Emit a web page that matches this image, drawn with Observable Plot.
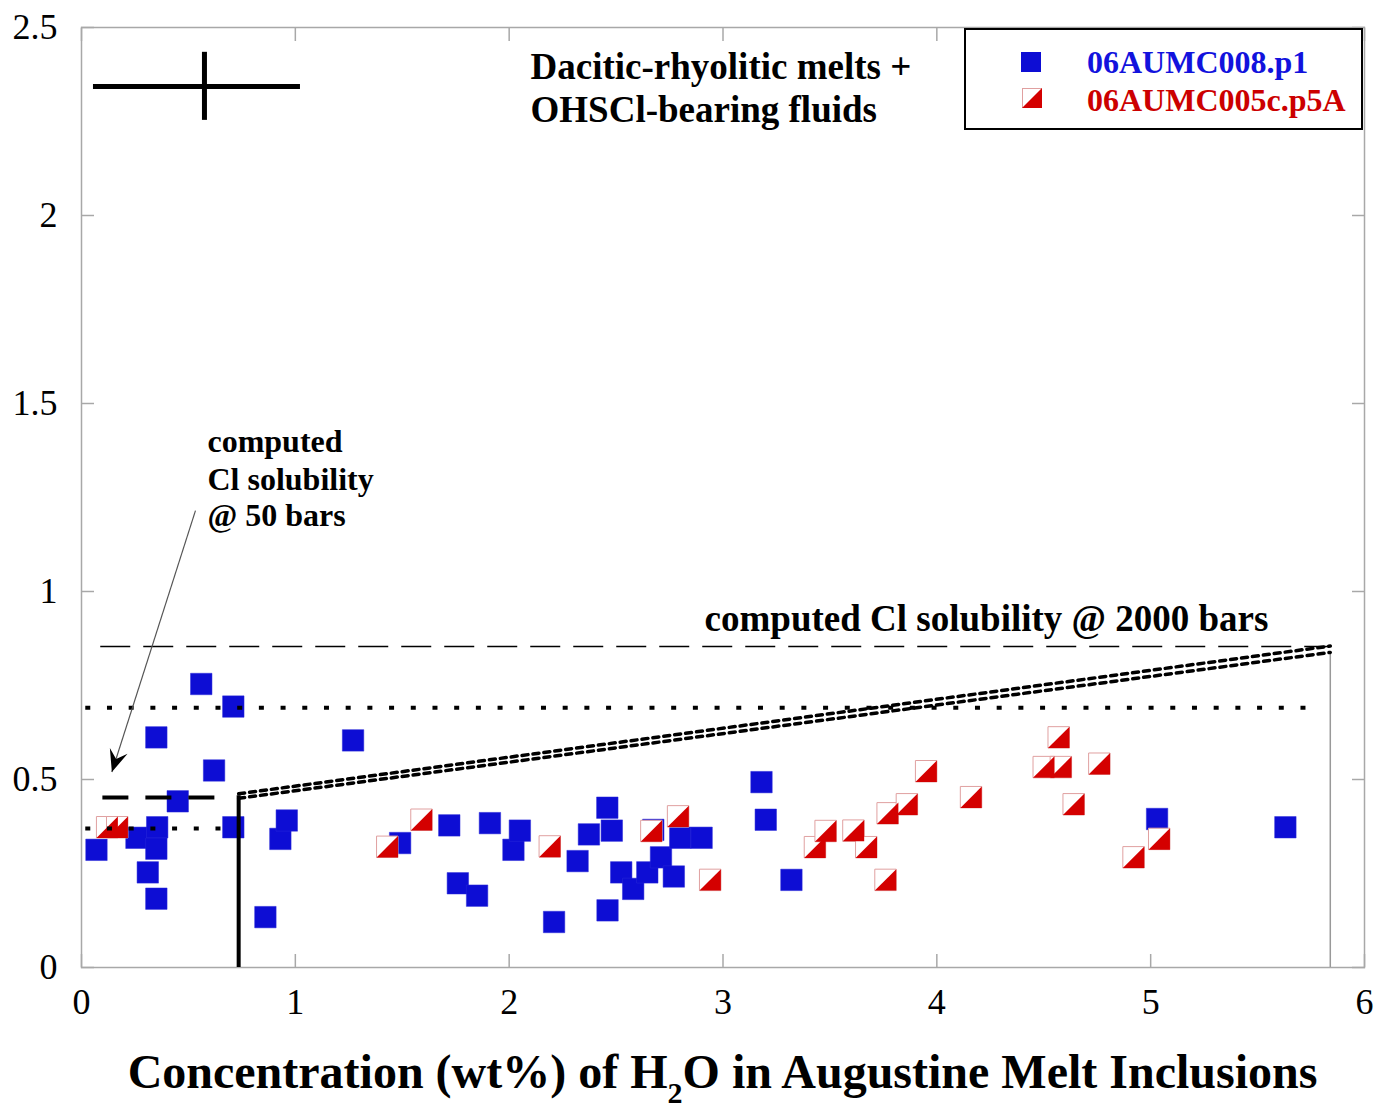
<!DOCTYPE html>
<html><head><meta charset="utf-8">
<script src="https://cdn.jsdelivr.net/npm/d3@7"></script>
<script src="https://cdn.jsdelivr.net/npm/@observablehq/plot@0.6"></script>
<style>
body{margin:0;background:#fff;}
#wrap{position:relative;width:1376px;height:1111px;font-family:"Liberation Serif","Times New Roman",serif;}
#legend{position:absolute;left:964px;top:28px;width:399px;height:102px;border:2.5px solid #000;background:#fff;box-sizing:border-box;}
.lg{position:absolute;font-weight:bold;font-size:32px;line-height:32px;white-space:nowrap;}
.sw{position:absolute;width:20px;height:20px;}
#xtitle{position:absolute;left:81px;width:1283px;top:1048px;text-align:center;font-weight:bold;font-size:48px;line-height:48px;white-space:nowrap;}
#xtitle .sub{font-size:30px;position:relative;top:15px;}
</style></head>
<body>
<div id="wrap">
  <div id="chart"></div>
  <div id="legend"></div>
  <div class="sw" style="left:1021px;top:52px;background:#0d0dd4;"></div>
  <svg class="sw" style="left:1022px;top:88px;" viewBox="0 0 20 20"><rect x="0.5" y="0.5" width="19" height="19" fill="#fff" stroke="#e0a0a0" stroke-width="1"/><path d="M20,0 L20,20 L0,20 Z" fill="#d40000"/></svg>
  <div class="lg" style="left:1087px;top:46px;color:#1212dd;">06AUMC008.p1</div>
  <div class="lg" style="left:1087px;top:84px;color:#cc0000;">06AUMC005c.p5A</div>
  <div id="xtitle">Concentration (wt%) of H<span class="sub">2</span>O in Augustine Melt Inclusions</div>
</div>
<script>
// ---- data ----
const xTicks = [0, 1, 2, 3, 4, 5, 6];
const yTicks = [0, 0.5, 1, 1.5, 2, 2.5];

// 06AUMC008.p1 (blue squares)
const blueX = [0.07,0.257,0.354,0.35,0.31,0.35,0.45,0.35,0.56,0.71,0.62,0.71,0.86,0.93,0.96,1.27,1.49,1.72,1.76,1.85,1.91,2.02,2.05,2.21,2.32,2.373,2.459,2.48,2.46,2.524,2.58,2.646,2.674,2.71,2.77,2.80,2.90,3.18,3.20,3.32,5.03,5.63];
const blueY = [0.313,0.345,0.373,0.316,0.253,0.183,0.442,0.612,0.754,0.694,0.524,0.373,0.134,0.342,0.391,0.604,0.331,0.378,0.224,0.191,0.384,0.313,0.364,0.121,0.283,0.354,0.425,0.364,0.152,0.253,0.209,0.253,0.366,0.293,0.242,0.345,0.345,0.493,0.393,0.233,0.395,0.373];

// 06AUMC005c.p5A (red half squares)
const redX = [0.12,0.167,1.43,1.59,2.19,2.665,2.79,2.94,3.43,3.48,3.61,3.67,3.76,3.77,3.86,3.95,4.16,4.50,4.58,4.57,4.64,4.76,4.92,5.04];
const redY = [0.373,0.373,0.321,0.393,0.322,0.363,0.402,0.233,0.32,0.363,0.364,0.32,0.233,0.41,0.434,0.522,0.453,0.533,0.533,0.612,0.434,0.542,0.293,0.342];

// computed solubility / reference lines
const dashLevels = [{y:0.854, x1:0.09, x2:5.84}];            // 2000 bars, thin long dash
const dottedLevels = [{y:0.691, x1:0.02, x2:5.75}, {y:0.37, x1:0.02, x2:0.72}];
const thickDash = [{y:0.452, x1:0.10, x2:0.64}];             // 50 bars
const solidVert = [{x:0.735, y1:0, y2:0.457}];
const thinVert = [{x:5.84, y1:0, y2:0.838}];
const slopeLines = [
  {s:"a", x:0.735, y:0.462}, {s:"a", x:5.84, y:0.855},
  {s:"b", x:0.735, y:0.450}, {s:"b", x:5.84, y:0.838}
];
const arrowLine = [{x1:0.533, y1:1.215, x2:0.142, y2:0.52}];
const errH = [{y:2.343, x1:0.056, x2:1.024}];
const errV = [{x:0.575, y1:2.253, y2:2.434}];

const bigNotes = [
  {x:2.10, y:2.364, t:"Dacitic-rhyolitic melts +"},
  {x:2.10, y:2.250, t:"OHSCl-bearing fluids"},
  {x:2.914, y:0.896, t:"computed Cl solubility @ 2000 bars"}
];
const smallNotes = [
  {x:0.589, y:1.372, t:"computed"},
  {x:0.589, y:1.271, t:"Cl solubility"},
  {x:0.589, y:1.173, t:"@ 50 bars"}
];

// ---- build ----
const blue = blueX.map((x, i) => ({x, y: blueY[i]}));
const red = redX.map((x, i) => ({x, y: redY[i]}));

const triangle = {draw(ctx, size) { const s = Math.sqrt(size) / 2; ctx.moveTo(s, -s); ctx.lineTo(s, s); ctx.lineTo(-s, s); ctx.closePath(); }};
const head = {draw(ctx, size) { const s = Math.sqrt(size); ctx.moveTo(0, 0); ctx.lineTo(-0.42*s, -s); ctx.lineTo(0, -0.62*s); ctx.lineTo(0.42*s, -s); ctx.closePath(); }};

const FONT = '"Liberation Serif", "Times New Roman", serif';
const R = 12.1;

const chart = Plot.plot({
  width: 1376, height: 1045,
  marginLeft: 81, marginRight: 12, marginTop: 27, marginBottom: 78,
  x: {domain: [0, 6]},
  y: {domain: [0, 2.5]},
  style: {fontFamily: FONT, background: "#fff", color: "#000"},
  marks: [
    Plot.frame({stroke: "#a8a8a8", strokeWidth: 1.5}),
    Plot.axisX({anchor: "bottom", ticks: xTicks, tickSize: 0, tickPadding: 21, fontSize: 36, label: null, tickFormat: d => String(d)}),
    Plot.axisY({anchor: "left", ticks: yTicks, tickSize: 0, tickPadding: 24, fontSize: 36, label: null, tickFormat: d => String(d)}),
    Plot.axisX({anchor: "bottom", ticks: xTicks, tickSize: -13, fill: "none", stroke: "#a8a8a8", strokeWidth: 1.5, label: null}),
    Plot.axisX({anchor: "top", ticks: xTicks, tickSize: -13, fill: "none", stroke: "#a8a8a8", strokeWidth: 1.5, label: null}),
    Plot.axisY({anchor: "left", ticks: yTicks, tickSize: -13, fill: "none", stroke: "#a8a8a8", strokeWidth: 1.5, label: null}),
    Plot.axisY({anchor: "right", ticks: yTicks, tickSize: -13, fill: "none", stroke: "#a8a8a8", strokeWidth: 1.5, label: null}),

    // data
    Plot.dot(blue, {x: "x", y: "y", symbol: "square", r: R, fill: "#0d0dd4", stroke: "#2a2ad8", strokeWidth: 0.5}),
    Plot.dot(red, {x: "x", y: "y", symbol: "square", r: R, fill: "#fff", stroke: "#e0a0a0", strokeWidth: 1}),
    Plot.dot(red, {x: "x", y: "y", symbol: triangle, r: R, fill: "#d40000"}),

    // reference lines
    Plot.ruleY(dashLevels, {y: "y", x1: "x1", x2: "x2", stroke: "#000", strokeWidth: 1.5, strokeDasharray: "30,13"}),
    Plot.ruleY(dottedLevels, {y: "y", x1: "x1", x2: "x2", stroke: "#000", strokeWidth: 4, strokeDasharray: "5,16.7"}),
    Plot.ruleY(thickDash, {y: "y", x1: "x1", x2: "x2", stroke: "#000", strokeWidth: 4, strokeDasharray: "26,17"}),
    Plot.ruleX(solidVert, {x: "x", y1: "y1", y2: "y2", stroke: "#000", strokeWidth: 4}),
    Plot.ruleX(thinVert, {x: "x", y1: "y1", y2: "y2", stroke: "#999", strokeWidth: 1.5}),
    Plot.line(slopeLines, {x: "x", y: "y", z: "s", stroke: "#000", strokeWidth: 3.5, strokeDasharray: "6,5"}),
    Plot.link(arrowLine, {x1: "x1", y1: "y1", x2: "x2", y2: "y2", stroke: "#555", strokeWidth: 1.2}),
    Plot.dot(arrowLine, {x: "x2", y: "y2", symbol: head, r: 12.5, fill: "#000", rotate: 18}),
    Plot.ruleY(errH, {y: "y", x1: "x1", x2: "x2", stroke: "#000", strokeWidth: 5}),
    Plot.ruleX(errV, {x: "x", y1: "y1", y2: "y2", stroke: "#000", strokeWidth: 5}),

    // annotations
    Plot.text(bigNotes, {x: "x", y: "y", text: "t", textAnchor: "start", lineAnchor: "bottom", fontSize: 37, fontWeight: "bold", fill: "#000"}),
    Plot.text(smallNotes, {x: "x", y: "y", text: "t", textAnchor: "start", lineAnchor: "bottom", fontSize: 32, fontWeight: "bold", fill: "#000"})
  ]
});
document.getElementById("chart").appendChild(chart);
</script>
</body></html>
